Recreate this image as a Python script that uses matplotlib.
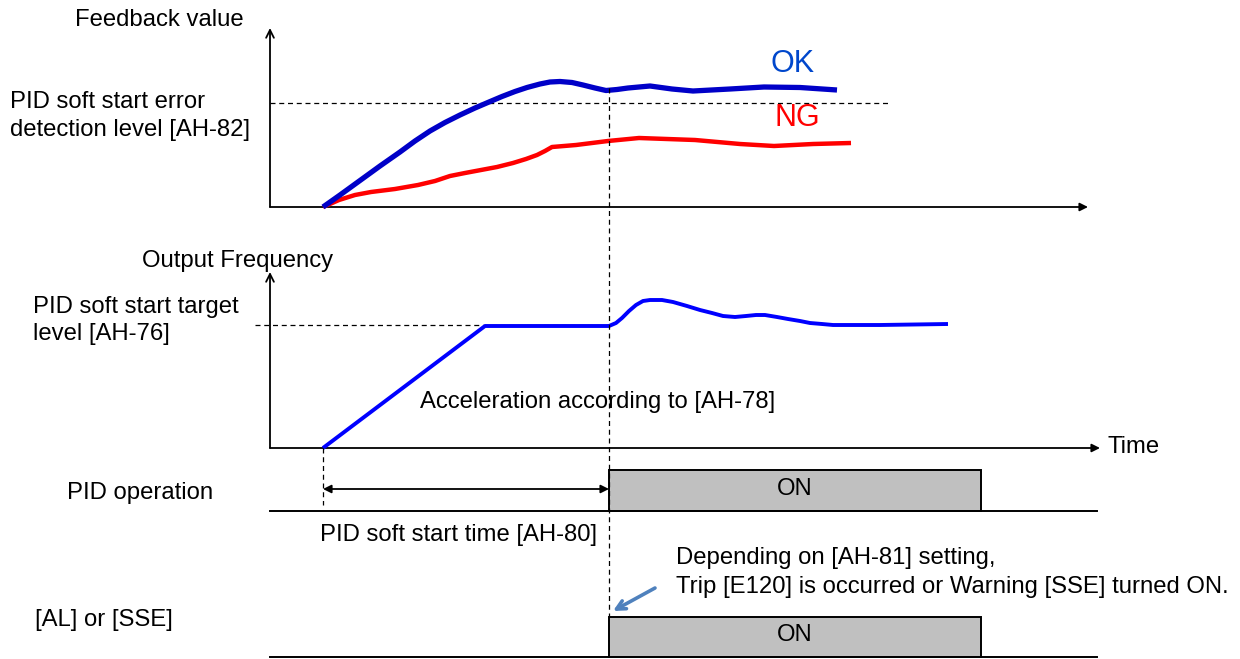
import matplotlib
matplotlib.use("Agg")
import matplotlib.pyplot as plt
from matplotlib.patches import Rectangle, FancyArrowPatch

plt.rcParams['font.family'] = ['Liberation Sans', 'DejaVu Sans']

# ---- data (diagram units = pixel positions of the schematic) ----
ok_t = [323, 340, 360, 380, 400, 415, 430, 445, 460, 475, 489, 502, 515, 527, 540, 550, 560, 572, 583, 595, 606, 617, 628, 650, 672, 693, 730, 764, 800, 837]
ok_v = [207, 195, 180.5, 166, 152, 141, 131, 122.5, 115, 108, 102, 96.5, 91.5, 87.5, 84, 82, 81.5, 82.5, 85, 88, 90.5, 89.5, 88, 86, 89, 91, 89, 87, 87.5, 90]

ng_t = [323, 339, 355, 371, 395, 418, 435, 450, 465, 481, 497, 513, 526, 537, 545, 552, 576, 608, 639, 695, 740, 774, 813, 851]
ng_v = [207, 200, 195, 192, 189, 185, 181, 176, 173, 170, 167, 163, 159, 155, 151, 147, 145, 141, 138, 140, 144, 146, 144, 143]

fr_t = [323, 485, 609, 616, 622, 629, 636, 643, 650, 662, 673, 687, 700, 712, 723, 735, 746, 756, 765, 777, 788, 800, 810, 822, 833, 880, 948]
fr_v = [448, 326, 326, 323, 318, 311, 305, 301, 300, 300, 302, 306, 310, 313, 316, 317, 316, 315, 315, 317, 319, 321, 323, 324, 325, 325, 324]

error_level = 103
target_level = 325
soft_start_begin = 323
soft_start_end = 609
on_end = 981

fig = plt.figure(figsize=(12.4, 6.59), dpi=100)
ax = fig.add_axes([0, 0, 1, 1])
ax.set_xlim(0, 1240)
ax.set_ylim(659, 0)
ax.axis('off')

fs = 17.2
blk = 'black'

def arrow(x0, y0, x1, y1, style, color=blk, lw=1.2, ms=12):
    ax.add_patch(FancyArrowPatch((x0, y0), (x1, y1), arrowstyle=style,
                                 mutation_scale=ms, color=color, lw=lw,
                                 shrinkA=0, shrinkB=0))

# ---- top panel ----
arrow(270, 207, 270, 28, '->', lw=1.3, ms=14)
arrow(270, 207, 1088, 207, '-|>', lw=1.3, ms=12)
ax.plot([270, 890], [error_level, error_level], ls=(0, (4, 3)), color=blk, lw=0.9)
ax.plot(ng_t, ng_v, color='#FF0000', lw=3.2, solid_capstyle='butt', solid_joinstyle='round')
ax.plot(ok_t, ok_v, color='#0000C8', lw=3.8, solid_capstyle='butt', solid_joinstyle='round')
ax.text(793, 64, 'OK', color='#0047CC', fontsize=22, ha='center', va='center')
ax.text(797, 118, 'NG', color='#FF0000', fontsize=22, ha='center', va='center')
ax.text(75, 20, 'Feedback value', fontsize=fs, ha='left', va='center')
ax.text(10, 102, 'PID soft start error', fontsize=fs, ha='left', va='center')
ax.text(10, 130, 'detection level [AH-82]', fontsize=fs, ha='left', va='center')

# ---- middle panel ----
arrow(270, 448, 270, 272, '->', lw=1.3, ms=14)
arrow(270, 448, 1100, 448, '-|>', lw=1.3, ms=12)
ax.plot([255, soft_start_end], [target_level, target_level], ls=(0, (4, 3)), color=blk, lw=0.9)
ax.plot(fr_t, fr_v, color='#0000FF', lw=2.8, solid_capstyle='butt', solid_joinstyle='round')
ax.text(1108, 447, 'Time', fontsize=fs, ha='left', va='center')
ax.text(142, 261, 'Output Frequency', fontsize=fs, ha='left', va='center')
ax.text(33, 307, 'PID soft start target', fontsize=fs, ha='left', va='center')
ax.text(33, 334, 'level [AH-76]', fontsize=fs, ha='left', va='center')
ax.text(420, 402, 'Acceleration according to [AH-78]', fontsize=fs, ha='left', va='center')

# ---- vertical dashed markers ----
ax.plot([soft_start_end, soft_start_end], [88, 617], ls=(0, (4, 3)), color=blk, lw=0.9)
ax.plot([soft_start_begin, soft_start_begin], [448, 505], ls=(0, (4, 3)), color=blk, lw=0.9)

# ---- PID operation row ----
ax.plot([270, 1097], [511, 511], color=blk, lw=1.4)
ax.add_patch(Rectangle((soft_start_end, 470), on_end - soft_start_end, 41,
                       facecolor='#C0C0C0', edgecolor=blk, lw=1.4))
ax.text((soft_start_end + on_end) / 2, 489, 'ON', fontsize=fs, ha='center', va='center')
ax.text(67, 493, 'PID operation', fontsize=fs, ha='left', va='center')
arrow(soft_start_begin, 489, soft_start_end, 489, '<|-|>', lw=1.3, ms=12)
ax.text(320, 535, 'PID soft start time [AH-80]', fontsize=fs, ha='left', va='center')

# ---- AL/SSE row ----
ax.text(676, 558, 'Depending on [AH-81] setting,', fontsize=fs, ha='left', va='center')
ax.text(676, 587, 'Trip [E120] is occurred or Warning [SSE] turned ON.', fontsize=fs,
        ha='left', va='center')
arrow(655, 588, 613, 611, '->', color='#4F81BD', lw=2.6, ms=16)
ax.plot([270, 1097], [657, 657], color=blk, lw=1.4)
ax.add_patch(Rectangle((soft_start_end, 617), on_end - soft_start_end, 40,
                       facecolor='#C0C0C0', edgecolor=blk, lw=1.4))
ax.text((soft_start_end + on_end) / 2, 635, 'ON', fontsize=fs, ha='center', va='center')
ax.text(35, 620, '[AL] or [SSE]', fontsize=fs, ha='left', va='center')

fig.savefig('out.png', dpi=100)
